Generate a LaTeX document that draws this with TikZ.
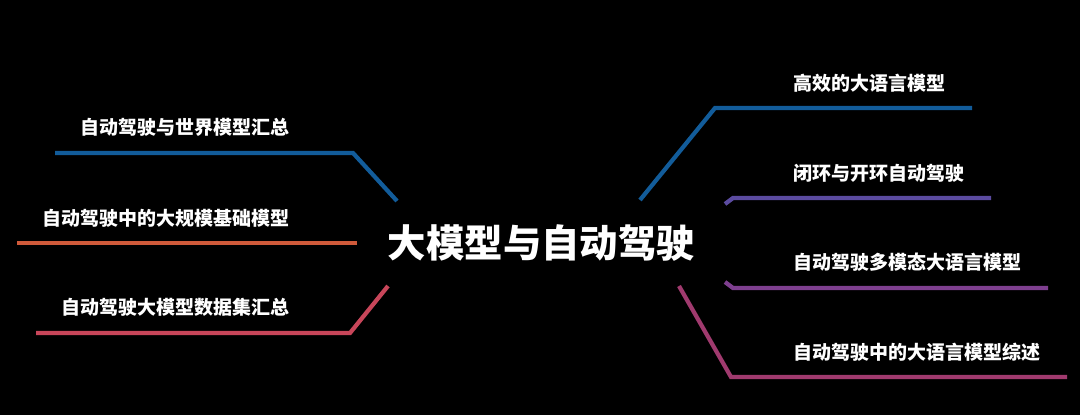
\documentclass[tikz,border=0pt]{standalone}
\usepackage{fontspec}
\newfontfamily\cjk{Noto Sans CJK SC}
\usepackage{tikz}
\usetikzlibrary{positioning}

\definecolor{ramaazul}{RGB}{18,92,154}
\definecolor{ramanaranja}{RGB}{208,90,58}
\definecolor{ramaroja}{RGB}{200,70,90}
\definecolor{ramalila}{RGB}{91,75,160}
\definecolor{ramamorada}{RGB}{126,63,143}
\definecolor{ramafucsia}{RGB}{160,58,110}

\begin{document}
\begin{tikzpicture}[x=0.025cm, y=-0.025cm,
  every node/.style={text=white, inner sep=0pt, font=\cjk\bfseries\fontsize{13.5pt}{15pt}\selectfont},
  rama/.style={line width=3pt}]
            \fill[black] (0,0) rectangle (1080,415);
            \useasboundingbox (0,0) rectangle (1080,415);
            % Nodos
            \node[font=\cjk\bfseries\fontsize{27.3pt}{30pt}\selectfont] (c) at (541.5,243) {大模型与自动驾驶};
            \node[anchor=east] (l1) at (290,127) {自动驾驶与世界模型汇总};
            \node[anchor=east] (l2) at (290,218) {自动驾驶中的大规模基础模型};
            \node[anchor=east] (l3) at (290,307) {自动驾驶大模型数据集汇总};
            \node[anchor=west] (r1) at (793,83) {高效的大语言模型};
            \node[anchor=west] (r2) at (793,173) {闭环与开环自动驾驶};
            \node[anchor=west] (r3) at (793,262) {自动驾驶多模态大语言模型};
            \node[anchor=west] (r4) at (793,352) {自动驾驶中的大语言模型综述};

            \coordinate (l1a) at (397,201);
            \coordinate (l1b) at (353,153);
            \coordinate (l1c) at (55,153);
            \coordinate (l2a) at (357,243);
            \coordinate (l2c) at (17,243);
            \coordinate (l3a) at (388,286);
            \coordinate (l3b) at (350,333);
            \coordinate (l3c) at (36,333);
            \coordinate (r1a) at (640,200);
            \coordinate (r1b) at (715,108);
            \coordinate (r1c) at (972,108);
            \coordinate (r2a) at (725,204);
            \coordinate (r2b) at (733,198);
            \coordinate (r2c) at (991,198);
            \coordinate (r3a) at (725,282);
            \coordinate (r3b) at (733,288);
            \coordinate (r3c) at (1048,288);
            \coordinate (r4a) at (679,286);
            \coordinate (r4b) at (731,377);
            \coordinate (r4c) at (1067,377);

            % Lineas
            \draw[rama, ramaazul] (l1a) -- (l1b) -- (l1c);
            \draw[rama, ramanaranja] (l2a) -- (l2c);
            \draw[rama, ramaroja] (l3a) -- (l3b) -- (l3c);
            \draw[rama, ramaazul] (r1a) -- (r1b) -- (r1c);
            \draw[rama, ramalila] (r2a) -- (r2b) -- (r2c);
            \draw[rama, ramamorada] (r3a) -- (r3b) -- (r3c);
            \draw[rama, ramafucsia] (r4a) -- (r4b) -- (r4c);
          \end{tikzpicture}
\end{document}
